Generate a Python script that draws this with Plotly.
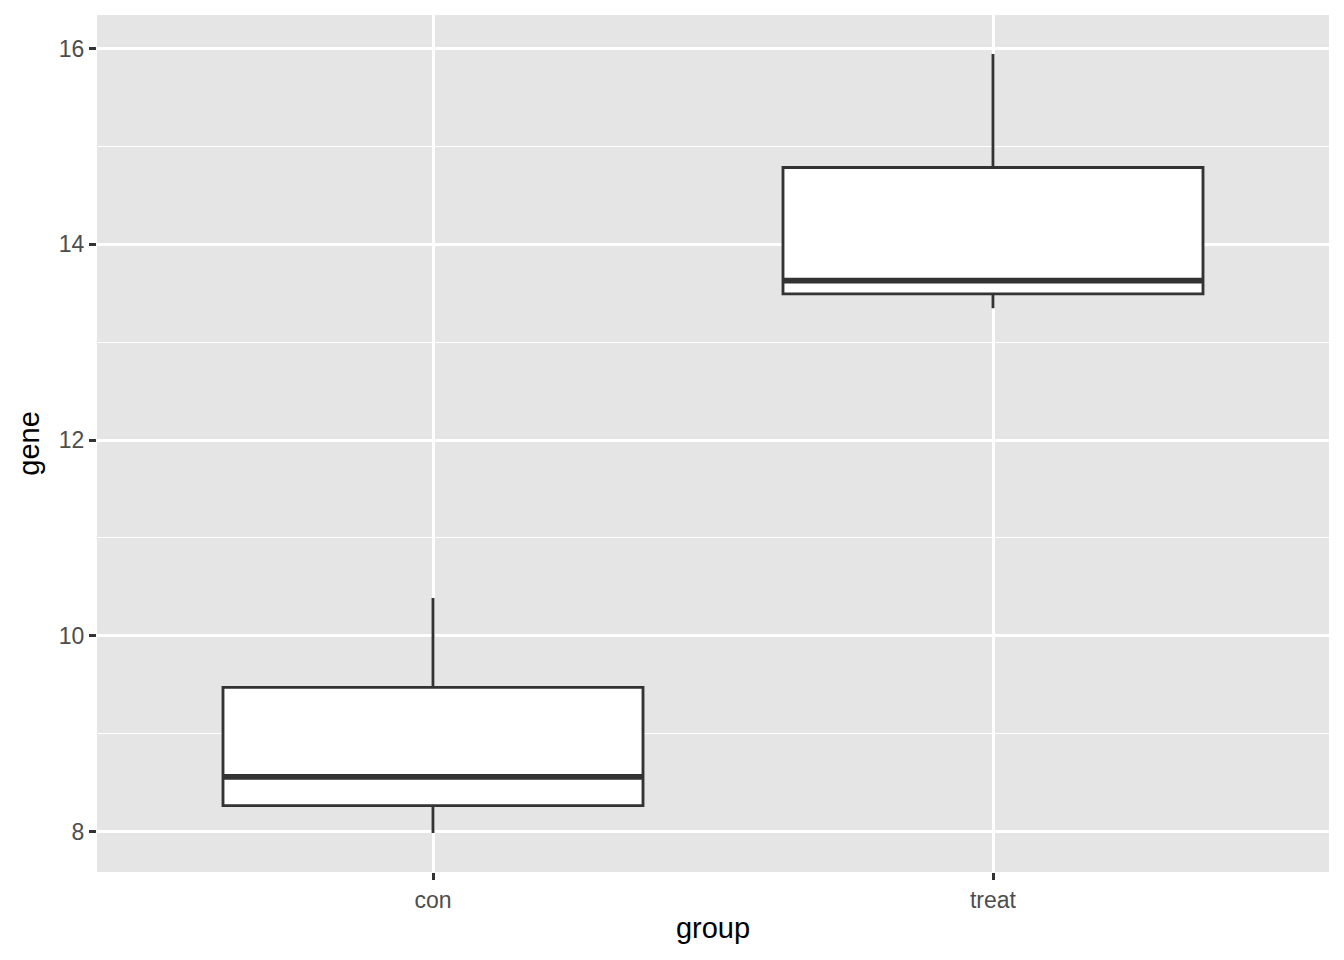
import plotly.graph_objects as go

groups = ["con", "treat"]
positions = [1, 2]
q1 = [8.265, 13.494]
median = [8.558, 13.630]
q3 = [9.473, 14.786]
lower = [7.984, 13.347]
upper = [10.387, 15.946]

box_width = 0.75
line_col = "#333333"
lw = 2.85

fig = go.Figure()
fig.add_trace(go.Box(
    x=positions, q1=q1, median=median, q3=q3,
    lowerfence=lower, upperfence=upper,
    width=box_width, whiskerwidth=0,
    fillcolor="white", line=dict(color=line_col, width=lw),
    boxpoints=False, showlegend=False, hoverinfo="skip",
))

mx, my = [], []
for p, m in zip(positions, median):
    mx += [p - box_width / 2, p + box_width / 2, None]
    my += [m, m, None]
fig.add_trace(go.Scatter(x=mx, y=my, mode="lines",
                         line=dict(color=line_col, width=lw * 2),
                         showlegend=False, hoverinfo="skip"))

ymin = min(lower); ymax = max(upper)
pad = 0.05 * (ymax - ymin)

font = "Liberation Sans, Arial, Helvetica, sans-serif"
fig.update_layout(
    width=1328, height=944,
    margin=dict(l=89, r=7, t=7, b=80),
    paper_bgcolor="white", plot_bgcolor="#E5E5E5",
    font=dict(family=font),
    xaxis=dict(
        range=[0.4, 2.6], tickvals=positions, ticktext=groups,
        showgrid=True, gridcolor="white", gridwidth=lw,
        zeroline=False, showline=False,
        ticks="outside", ticklen=7, tickwidth=lw, tickcolor=line_col,
        tickfont=dict(size=23, color="#4D4D4D", family=font),
        title=dict(text="group", font=dict(size=29, color="black", family=font), standoff=6),
    ),
    yaxis=dict(
        range=[ymin - pad, ymax + pad], tick0=8, dtick=2,
        showgrid=True, gridcolor="white", gridwidth=lw,
        minor=dict(dtick=1, showgrid=True, gridcolor="white", gridwidth=lw / 2, ticks=""),
        zeroline=False, showline=False,
        ticks="outside", ticklen=7, tickwidth=lw, tickcolor=line_col,
        tickfont=dict(size=23, color="#4D4D4D", family=font),
        title=dict(text="gene", font=dict(size=29, color="black", family=font), standoff=10),
    ),
)

fig.write_html("out.html")
